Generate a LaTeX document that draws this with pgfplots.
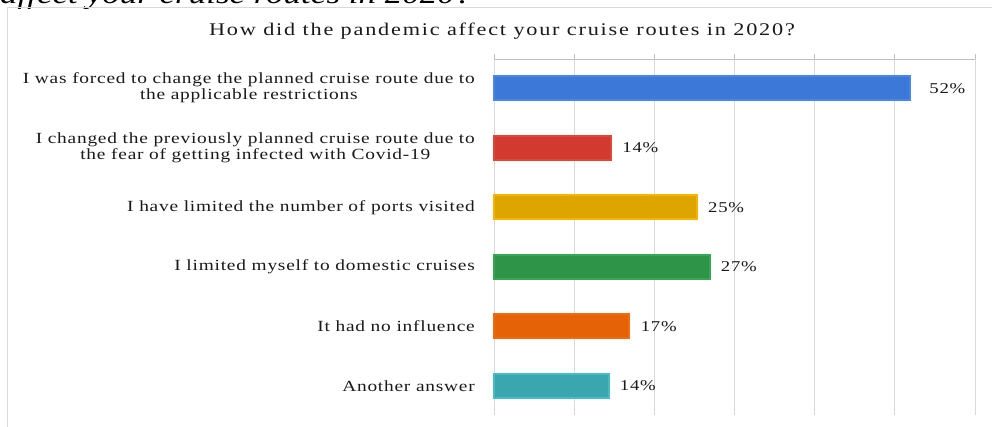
\documentclass[border=0pt]{standalone}
\usepackage{fontspec}
\setmainfont{Liberation Serif}[FakeStretch=1.25]
\newfontfamily\titlefont{Liberation Serif}[FakeStretch=1.25, LetterSpace=10]
\newfontfamily\labfont{Liberation Serif}[FakeStretch=1.25, LetterSpace=5]
\usepackage{pgfplots}
\pgfplotsset{compat=1.18}
\definecolor{cblue}{HTML}{3C78D8}\definecolor{cblueb}{HTML}{4A86E8}
\definecolor{cred}{HTML}{D23A2F}\definecolor{credb}{HTML}{E0453A}
\definecolor{cyel}{HTML}{DEA500}\definecolor{cyelb}{HTML}{F4B400}
\definecolor{cgre}{HTML}{2E9447}\definecolor{cgreb}{HTML}{34A853}
\definecolor{cora}{HTML}{E56207}\definecolor{corab}{HTML}{F26B0F}
\definecolor{ctea}{HTML}{3AA6AE}\definecolor{cteab}{HTML}{46BDC6}
\definecolor{gridc}{HTML}{D9D9D9}
\definecolor{axc}{HTML}{BFBFBF}
\definecolor{txt}{HTML}{1A1A1A}
\begin{document}
\begin{tikzpicture}
\useasboundingbox (0pt,0pt) rectangle (992pt,-427pt);
\clip (0pt,0pt) rectangle (992pt,-427pt);
\fill[white] (0pt,0pt) rectangle (992pt,-427pt);
\node[anchor=base west, inner sep=0pt, font=\itshape\fontsize{28}{30}\selectfont] at (0pt,-3.5pt) {affect your cruise routes in 2020?};
\draw[gridc, line width=1pt] (7pt,-7.5pt) rectangle (1010pt,-450pt);
\node[anchor=base, inner sep=0pt, font=\titlefont\fontsize{17.8}{19}\selectfont, text=txt] at (502pt,-36pt) {How did the pandemic affect your cruise routes in 2020?};
\begin{axis}[
  at={(494pt,-59pt)}, anchor=north west,
  scale only axis, width=481pt, height=356pt,
  xmin=0, xmax=60, ymin=-0.49, ymax=5.49, y dir=reverse,
  xbar, bar width=24pt,
  axis x line*=top,
  axis y line*=left,
  x axis line style={axc, line width=1pt},
  y axis line style={draw=none},
  xtick={0,10,...,60}, xticklabels={},
  tick align=outside, xtick pos=upper,
  major tick length=5pt,
  xtick style={axc, line width=1pt},
  ytick style={draw=none},
  xmajorgrids, grid style={gridc, line width=1pt},
  ytick={0,...,5},
  yticklabel style={font=\labfont\fontsize{15.5}{16}\selectfont, text=txt, align=center, inner sep=0pt, xshift=-14pt},
  yticklabels={{I was forced to change the planned cruise route due to\\the applicable restrictions},
    {I changed the previously planned cruise route due to\\the fear of getting infected with Covid-19},
    {I have limited the number of ports visited},
    {I limited myself to domestic cruises},
    {It had no influence},
    {Another answer}},
  point meta=explicit symbolic,
  nodes near coords,
  nodes near coords style={anchor=west, font=\labfont\fontsize{15}{15}\selectfont, text=txt, xshift=7pt},
  clip=false,
]
\addplot[bar shift=0pt, fill=cblue, draw=cblueb, line width=2pt, every node near coord/.append style={xshift=8pt}] coordinates {(51.9,0) [52\%]};
\addplot[bar shift=0pt, fill=cred, draw=credb, line width=2pt] coordinates {(14.6,1) [14\%]};
\addplot[bar shift=0pt, fill=cyel, draw=cyelb, line width=2pt] coordinates {(25.3,2) [25\%]};
\addplot[bar shift=0pt, fill=cgre, draw=cgreb, line width=2pt] coordinates {(26.9,3) [27\%]};
\addplot[bar shift=0pt, fill=cora, draw=corab, line width=2pt] coordinates {(16.9,4) [17\%]};
\addplot[bar shift=0pt, fill=ctea, draw=cteab, line width=2pt] coordinates {(14.3,5) [14\%]};
\end{axis}
\end{tikzpicture}
\end{document}
